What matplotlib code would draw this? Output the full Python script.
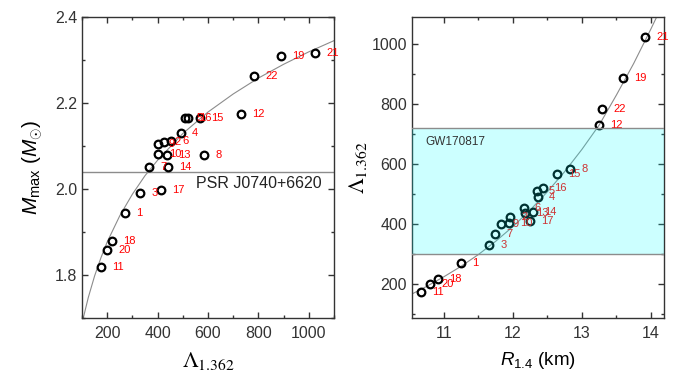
import matplotlib
matplotlib.use("Agg")
import matplotlib.pyplot as plt
from matplotlib.ticker import MultipleLocator

plt.rcParams['font.family'] = ['Liberation Sans', 'DejaVu Sans']
plt.rcParams['mathtext.fontset'] = 'custom'
plt.rcParams['mathtext.rm'] = 'Liberation Sans'
plt.rcParams['mathtext.it'] = 'Liberation Sans:italic'

# EOS index labels
eos_ids = ['1', '2', '3', '4', '5', '6', '7', '8', '9', '10', '11',
           '12', '13', '14', '15', '16', '17', '18', '19', '20', '21', '22']

# tidal deformability of a 1.362 Msun star
lam_1362 = [270, 424, 330, 492, 510, 454, 367, 584, 400, 403, 175,
            730, 437, 441, 568, 520, 412, 217, 888, 200, 1025, 784]

# maximum mass (Msun)
m_max = [1.943, 2.110, 1.990, 2.130, 2.166, 2.112, 2.050, 2.079, 2.104, 2.081, 1.818,
         2.174, 2.080, 2.051, 2.166, 2.166, 1.998, 1.879, 2.309, 1.859, 2.317, 2.263]

# radius of a 1.4 Msun star (km)
r_14 = [11.25, 11.96, 11.66, 12.36, 12.35, 12.155, 11.745, 12.83, 11.83, 11.94, 10.67,
        13.25, 12.18, 12.285, 12.64, 12.436, 12.25, 10.91, 13.594, 10.805, 13.916, 13.294]

# gray trend curves
fit_left_lam = [105, 125, 150, 175, 200, 250, 300, 350, 400, 500, 600, 700, 800, 900, 1000, 1100]
fit_left_m = [1.700, 1.748, 1.798, 1.840, 1.877, 1.938, 1.988, 2.031, 2.067, 2.129,
              2.179, 2.221, 2.258, 2.290, 2.319, 2.345]

fit_right_r = [10.54, 10.75, 11.0, 11.25, 11.5, 11.75, 12.0, 12.25, 12.5, 12.75,
               13.0, 13.25, 13.5, 13.75, 14.0, 14.1]
fit_right_lam = [168, 193, 225, 260, 299, 343, 392, 447, 508, 575,
                 649, 730, 830, 935, 1050, 1098]

psr_mass = 2.04          # PSR J0740+6620 bound
gw_band = (300, 720)     # GW170817 range of Lambda_1.362

fig = plt.figure(figsize=(6.94, 3.81), dpi=100)
ax1 = fig.add_axes([0.1182, 0.1654, 0.3631, 0.7900])
ax2 = fig.add_axes([0.5937, 0.1654, 0.3631, 0.7900])

def style_axes(ax):
    for s in ax.spines.values():
        s.set_color('#333333')
        s.set_linewidth(1.0)
    ax.tick_params(which='both', direction='in', top=True, right=True,
                   colors='#333333', labelsize=11.5)
    ax.tick_params(which='major', length=4.5, width=1.0)
    ax.tick_params(which='minor', length=2.5, width=1.0)
    ax.tick_params(axis='x', which='major', pad=6)

# ---- left panel: M_max vs Lambda ----
ax1.plot(fit_left_lam, fit_left_m, color='#8c8c8c', lw=0.8, zorder=1)
ax1.axhline(psr_mass, color='#8c8c8c', lw=1.0, zorder=1)
ax1.plot(lam_1362, m_max, 'o', ms=5.5, mfc='none', mec='black', mew=1.6, zorder=3)
for lab, x, y in zip(eos_ids, lam_1362, m_max):
    ax1.annotate(lab, (x, y), xytext=(8, 0), textcoords='offset points',
                 color='red', fontsize=8, va='center', ha='left', zorder=4)
ax1.text(1052, 2.012, 'PSR J0740+6620', fontsize=11.5, color='#222222',
         ha='right', va='center')

ax1.xaxis.set_major_locator(MultipleLocator(200))
ax1.xaxis.set_minor_locator(MultipleLocator(100))
ax1.yaxis.set_major_locator(MultipleLocator(0.2))
ax1.yaxis.set_minor_locator(MultipleLocator(0.1))
ax1.set_xlim(100, 1100)
ax1.set_ylim(1.7, 2.4)
style_axes(ax1)
ax1.set_xlabel(r'$\Lambda_{1.362}$', fontsize=16, math_fontfamily='stix', labelpad=6)
ax1.set_ylabel(r'$M_{\mathrm{max}}$ ($M_{\odot}$)', fontsize=15, labelpad=7)

# ---- right panel: Lambda vs R_1.4 ----
ax2.plot(fit_right_r, fit_right_lam, color='#8c8c8c', lw=0.8, zorder=1)
ax2.plot(r_14, lam_1362, 'o', ms=5.5, mfc='none', mec='black', mew=1.6, zorder=3)
for lab, x, y in zip(eos_ids, r_14, lam_1362):
    ax2.annotate(lab, (x, y), xytext=(8, 0), textcoords='offset points',
                 color='red', fontsize=8, va='center', ha='left', zorder=4)
ax2.axhspan(gw_band[0], gw_band[1], facecolor='cyan', alpha=0.2, lw=0, zorder=5)
ax2.axhline(gw_band[0], color='#8c8c8c', lw=1.0, zorder=6)
ax2.axhline(gw_band[1], color='#8c8c8c', lw=1.0, zorder=6)
ax2.text(10.73, 673, 'GW170817', fontsize=8.5, color='#333333',
         ha='left', va='center', zorder=7)

ax2.xaxis.set_major_locator(MultipleLocator(1))
ax2.xaxis.set_minor_locator(MultipleLocator(0.5))
ax2.yaxis.set_major_locator(MultipleLocator(200))
ax2.yaxis.set_minor_locator(MultipleLocator(100))
ax2.set_xlim(10.54, 14.19)
ax2.set_ylim(88, 1090)
ax2.set_yticks([200, 400, 600, 800, 1000])
style_axes(ax2)
ax2.set_xlabel(r'$R_{\mathrm{1.4}}$ (km)', fontsize=13.5, labelpad=6)
ax2.set_ylabel(r'$\Lambda_{1.362}$', fontsize=16, math_fontfamily='stix', labelpad=2)

fig.savefig('out.png', dpi=100)
plt.close(fig)
